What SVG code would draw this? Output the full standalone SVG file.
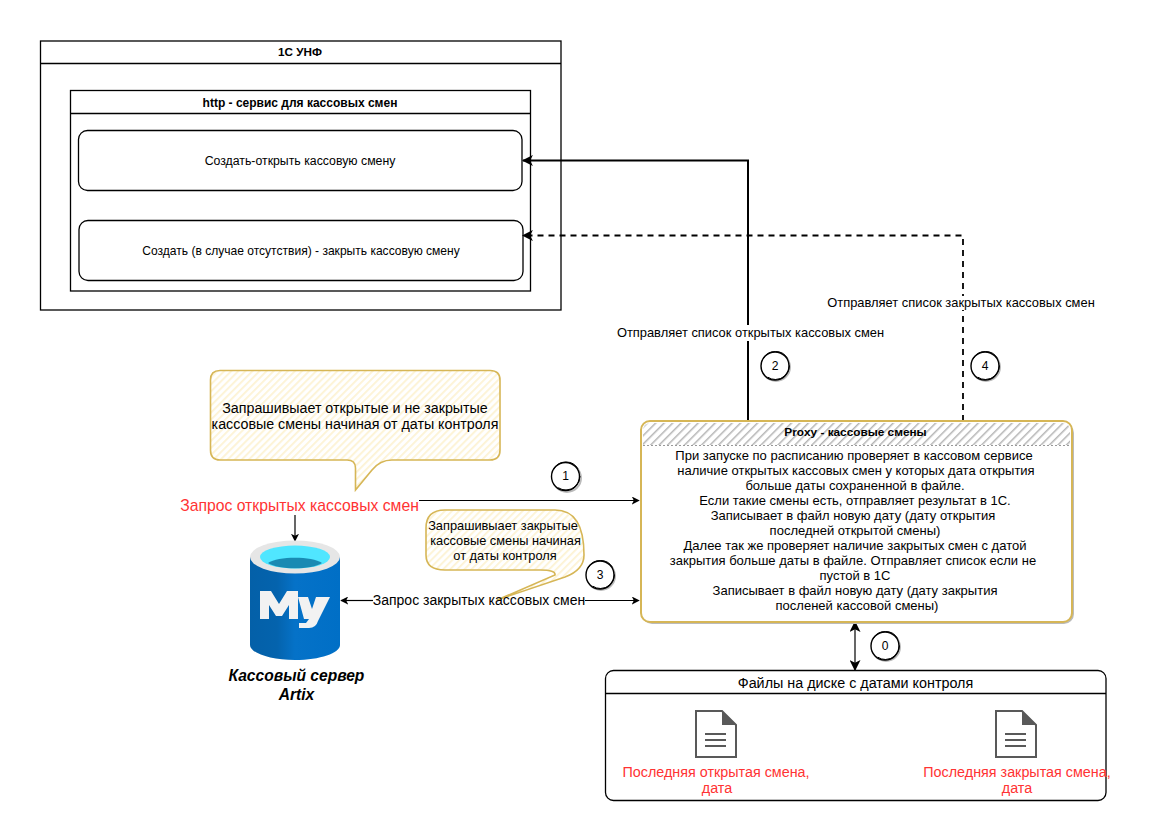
<svg xmlns="http://www.w3.org/2000/svg" width="1169" height="827" viewBox="0 0 1169 827">
<style>
text{font-family:"Liberation Sans",Arial,sans-serif;font-size:12.100px;fill:#000;text-anchor:middle}
.b{font-weight:bold}
.r{fill:#ff3333;font-size:14.350px}
.m{font-size:14.250px}
.p{font-size:13px}
.l{font-size:12.900px}
.n{font-size:12.800px}
.i{font-size:15.600px;font-style:italic;font-weight:bold}
.box{fill:#fff;stroke:#000;stroke-width:1.3}
.conn{fill:none;stroke:#000;stroke-width:1.2}
.note{fill:url(#yh);stroke:#d6b656;stroke-width:1.600}
.badge{fill:#fff;stroke:#000;stroke-width:1.400}
.ring{fill:none;stroke:#000;stroke-width:1;stroke-dasharray:30 20}
.shadow{fill:none;stroke:#bbb;stroke-width:2}
</style>
<defs>
<pattern id="yh" width="5" height="5" patternUnits="userSpaceOnUse" patternTransform="rotate(45)"><rect width="5" height="5" fill="#fff"/><rect width="1.800" height="5" fill="#fdf3d4"/></pattern>
<pattern id="gh" width="6" height="6" patternUnits="userSpaceOnUse" patternTransform="rotate(45)"><rect width="6" height="6" fill="#fff"/><rect width="1.500" height="6" fill="#b5b5b5"/></pattern>
<linearGradient id="cyl" x1="0" x2="1" y1="0" y2="0"><stop offset="0" stop-color="#0460a8"/><stop offset=".3" stop-color="#0463ad"/><stop offset=".5" stop-color="#0572c8"/><stop offset="1" stop-color="#006fc6"/></linearGradient>
<marker id="a" viewBox="0 0 10 10" refX="9" refY="5" markerWidth="8" markerHeight="8" markerUnits="userSpaceOnUse" orient="auto-start-reverse"><path d="M0 0L10 5L0 10L2.500 5z" fill="#000"/></marker>
<marker id="al" viewBox="0 0 10 10" refX="9" refY="5" markerWidth="11" markerHeight="11" markerUnits="userSpaceOnUse" orient="auto-start-reverse"><path d="M0 0L10 5L0 10L2.500 5z" fill="#000"/></marker>
<g id="doc-icon"><path d="M1 1H27L41 15V47H1z" fill="#fff" stroke="#595959" stroke-width="2"/><path d="M27 1L41 15H27z" fill="#595959"/><path d="M10 24H31M10 30H31M10 36H31" stroke="#595959" stroke-width="2" fill="none"/></g>
</defs>
<rect width="1169" height="827" fill="#fff"/>

<g id="node-1c">
<rect class="box" x="40.500" y="41" width="520.500" height="269"/>
<path class="box" d="M40.500 63.500H561"/>
<text class="b" x="300" y="56" style="font-size:11.700px">1С УНФ</text>
</g>
<g id="node-http">
<rect class="box" x="70.500" y="90.500" width="460" height="200.500"/>
<path class="box" d="M70.500 113.500H530.500"/>
<text class="b" x="300" y="107" style="font-size:12px">http - сервис для кассовых смен</text>
</g>
<g id="node-open">
<rect class="box" x="78.500" y="130.500" width="443.500" height="60" rx="9"/>
<text x="300" y="165" style="font-size:12.300px">Создать-открыть кассовую смену</text>
</g>
<g id="node-close">
<rect class="box" x="79" y="220.500" width="444" height="60" rx="9"/>
<text x="301" y="255" style="font-size:12.050px">Создать (в случае отсутствия) - закрыть кассовую смену</text>
</g>

<g id="connectors">
<path class="conn" style="stroke-width:2" d="M748 421V160.500H523" marker-end="url(#al)"/>
<path class="conn" style="stroke-width:1.800;stroke-dasharray:6 5" d="M963 421V235.500H523" marker-end="url(#al)"/>
<path class="conn" d="M419 500.500H639" marker-end="url(#a)"/>
<path class="conn" d="M295 515V541" marker-end="url(#a)"/>
<path class="conn" d="M373 600.500H341" marker-end="url(#a)"/>
<path class="conn" d="M585 600.500H639" marker-end="url(#a)"/>
<path class="conn" d="M855 622V670" marker-start="url(#al)" marker-end="url(#al)"/>
</g>

<g id="node-note-open">
<path class="note" d="M220 370.500H490Q500 370.500 500 380V450Q500 460 490 460H392Q380 460 372 470L355.500 490V468Q355.500 460 347 460H220Q210.500 460 210.500 450V380Q210.500 370.500 220 370.500z"/>
<text class="m" x="355" y="413">Запрашивыает открытые и не закрытые</text>
<text class="m" x="355" y="429">кассовые смены начиная от даты контроля</text>
</g>
<g id="node-req-open"><text class="r" x="299.500" y="511" style="font-size:15.750px">Запрос открытых кассовых смен</text></g>

<g id="node-db">
<path d="M250 557V645C250 653 270 660 295 660S340 653 340 645V557z" fill="url(#cyl)"/>
<ellipse cx="295" cy="557" rx="45" ry="16.500" fill="#e6e6e6"/>
<ellipse cx="295" cy="557" rx="35" ry="11.500" fill="#50e6ff"/>
<path d="M268 563C278 556 312 556 322 563C312 570 278 570 268 563z" fill="#198ab3"/>
<path d="M260 619V591H271L279 604L287 591H298V619H289V605L282 616H276L269 605V619z" fill="#f2f2f2"/>
<path d="M298 597H308L312 609L316 597H330L318 621Q316 628 309 628H299V623H306L309 619H304z" fill="#f2f2f2"/>
<text class="i" x="296.500" y="681">Кассовый сервер</text>
<text class="i" x="296.500" y="700">Artix</text>
</g>

<g id="node-note-close">
<path class="note" d="M445 510H555Q584 510 584 555Q584 570 565 577L497 600L555 575Q556 570 540 570H445Q426 570 426 555V528Q426 510 445 510z"/>
<text class="n" x="503" y="530">Запрашивыает закрытые</text>
<text class="n" x="505.500" y="545">кассовые смены начиная</text>
<text class="n" x="505" y="560">от даты контроля</text>
</g>
<g id="node-req-close"><text x="479" y="605" style="font-size:14px">Запрос закрытых кассовых смен</text></g>

<g id="node-proxy">
<rect x="643" y="424" width="430" height="199" rx="9" fill="none" stroke="#bbb" stroke-width="2"/>
<rect x="641" y="421" width="431" height="201" rx="9" fill="#fff" stroke="#d6b656" stroke-width="2"/>
<path d="M643 445V431Q643 423 651 423H1062Q1070 423 1070 431V445z" fill="url(#gh)"/>
<path d="M643 445.500H1070" stroke="#999" stroke-dasharray="2 2" fill="none"/>
<text class="b" x="855.500" y="436" style="font-size:11.800px">Proxy - кассовые смены</text>
<text class="p" x="854" y="460">При запуске по расписанию проверяет в кассовом сервисе</text>
<text class="p" x="856" y="475">наличие открытых кассовых смен у которых дата открытия</text>
<text class="p" x="855" y="490">больше даты сохраненной в файле.</text>
<text class="p" x="855" y="505">Если такие смены есть, отправляет результат в 1С.</text>
<text class="p" x="853" y="520">Записывает в файл новую дату (дату открытия</text>
<text class="p" x="855" y="535">последней открытой смены)</text>
<text class="p" x="855" y="550">Далее так же проверяет наличие закрытых смен с датой</text>
<text class="p" x="853" y="565">закрытия больше даты в файле. Отправляет список если не</text>
<text class="p" x="855" y="580">пустой в 1С</text>
<text class="p" x="855" y="595">Записывает в файл новую дату (дату закрытия</text>
<text class="p" x="857" y="610">посленей кассовой смены)</text>
</g>

<g id="node-files">
<rect class="box" x="605.500" y="670.500" width="500.500" height="130" rx="8"/>
<path class="box" d="M605.500 693.500H1106"/>
<text x="855.500" y="688" style="font-size:14.350px">Файлы на диске с датами контроля</text>
<use href="#doc-icon" x="695" y="710"/>
<use href="#doc-icon" x="995" y="710"/>
<text class="r" x="716" y="777">Последняя открытая смена,</text>
<text class="r" x="717" y="793">дата</text>
<text class="r" x="1017" y="777">Последняя закрытая смена,</text>
<text class="r" x="1017" y="793">дата</text>
</g>

<g id="label-open"><rect x="616" y="325" width="270" height="16" fill="#fff"/><text class="l" x="750.500" y="337">Отправляет список открытых кассовых смен</text></g>
<g id="label-close"><rect x="960" y="296" width="6" height="14" fill="#fff"/><text class="l" x="961" y="307">Отправляет список закрытых кассовых смен</text></g>

<g id="badge-1"><circle class="shadow" cx="567" cy="478" r="14"/><circle class="badge" cx="565.500" cy="476.500" r="14"/><circle class="ring" cx="566" cy="476" r="14"/><text x="565.500" y="480">1</text></g>
<g id="badge-2"><circle class="shadow" cx="776" cy="367" r="14"/><circle class="badge" cx="775" cy="366" r="14"/><circle class="ring" cx="775.500" cy="365.500" r="14"/><text x="775" y="370">2</text></g>
<g id="badge-3"><circle class="shadow" cx="601" cy="576" r="14"/><circle class="badge" cx="600" cy="575" r="14"/><circle class="ring" cx="600.500" cy="574.500" r="14"/><text x="600" y="579">3</text></g>
<g id="badge-4"><circle class="shadow" cx="986" cy="367" r="14"/><circle class="badge" cx="985" cy="366" r="14"/><circle class="ring" cx="985.500" cy="365.500" r="14"/><text x="985" y="370">4</text></g>
<g id="badge-0"><circle class="shadow" cx="886" cy="647" r="14"/><circle class="badge" cx="885" cy="646" r="14"/><circle class="ring" cx="885.500" cy="645.500" r="14"/><text x="885" y="650">0</text></g>
</svg>
